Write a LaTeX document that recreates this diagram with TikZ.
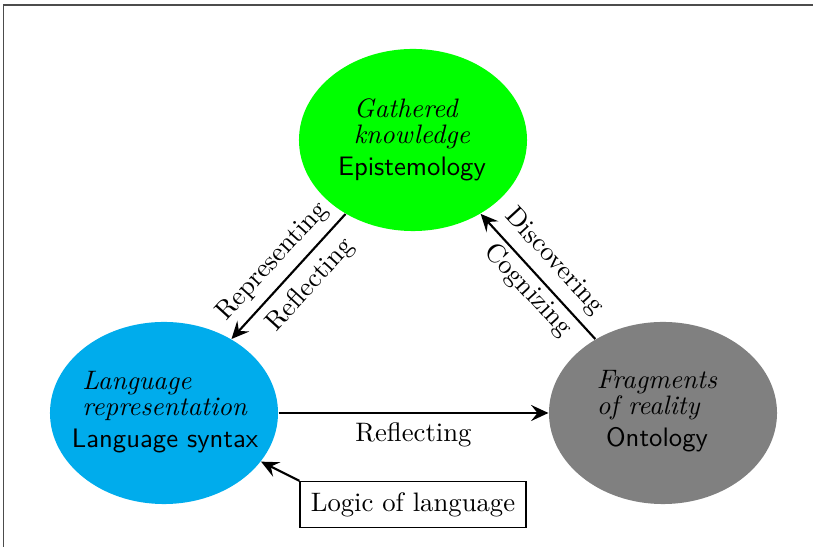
\documentclass[tikz,border=0pt]{standalone}
\usetikzlibrary{shapes.geometric,arrows.meta}
\definecolor{skyblue}{RGB}{0,172,236}

\begin{document}
\begin{tikzpicture}[x=0.3745pt,y=-0.3745pt,>={Stealth[length=6.5pt,width=6pt,inset=2.4pt]},
  topic/.style={ellipse, minimum width=85.4pt, minimum height=68.2pt, inner sep=0pt},
  topictext/.style={align=center, inner sep=0pt},
  link/.style={->, thick}]
\useasboundingbox (0,0) rectangle (813,547);
\draw[line width=0.7pt, black!70] (3.5,547) -- (3.5,4.7) -- (813,4.7);

\node[topic, fill=green] (epist) at (413,140) {};
\node[topictext] (episttext) at (412,138) {\begin{tabular}[b]{@{}l@{}}\textit{Gathered}\\[-2.3pt]\textit{knowledge}\end{tabular}\\\textsf{Epistemology}};

\node[topic, fill=skyblue] (lang) at (164,413) {};
\node[topictext] (langtext) at (165,410) {\begin{tabular}[b]{@{}l@{}}\textit{Language}\\[-2.3pt]\textit{representation}\end{tabular}\\\textsf{Language syntax}};

\node[topic, fill=gray] (onto) at (663,413) {};
\node[topictext] (ontotext) at (657,409) {\begin{tabular}[b]{@{}l@{}}\textit{Fragments}\\[-2.3pt]\textit{of reality}\end{tabular}\\\textsf{Ontology}};

\node[draw, semithick, inner sep=4pt] (logic) at (413,504.5) {Logic of language};

\draw[link] (epist) -- (lang)
  node[midway, sloped, above] (reprlbl) {Representing}
  node[pos=0.45, sloped, below] (refllbl) {Reflecting};
\draw[link] (onto) -- (epist)
  node[midway, sloped, above] (disclbl) {Discovering}
  node[pos=0.48, sloped, below=-2pt] (cognlbl) {Cognizing};
\draw[link] (lang) -- (onto)
  node[midway, below] (reflbl) {Reflecting};
\draw[link] (logic.north west) -- (lang);
\end{tikzpicture}
\end{document}
